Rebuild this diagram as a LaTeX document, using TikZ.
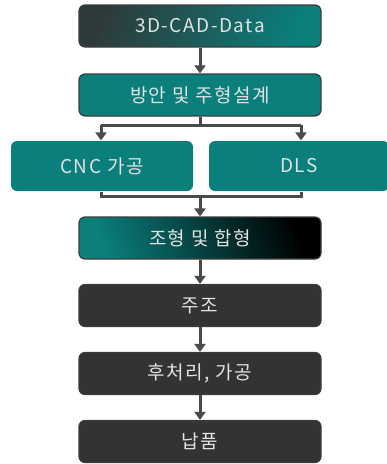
\documentclass[tikz,border=0pt]{standalone}
\usepackage{fontspec}
\setmainfont{Noto Sans CJK KR}[LetterSpace=8]
\usetikzlibrary{arrows.meta}
\definecolor{teal1}{HTML}{0A7F7C}
\definecolor{tealdark}{HTML}{2E3A3A}
\definecolor{boxdark}{HTML}{333333}
\definecolor{edgec}{HTML}{3C3C3C}
\definecolor{arrc}{HTML}{4A4A4A}
\definecolor{txt}{HTML}{E2E2E2}
\tikzset{
  box/.style={rounded corners=6pt, draw=edgec, line width=1.2pt, minimum width=242pt, minimum height=42pt, inner sep=0pt, text=txt, font=\fontsize{19}{22}\selectfont},
  tealbox/.style={box, fill=teal1},
  darkbox/.style={box, fill=boxdark},
  sidebox/.style={box, draw=none, fill=teal1, minimum height=50pt},
  conn/.style={draw=arrc, line width=3pt},
  arr/.style={conn, -{Triangle[length=8pt,width=11pt]}},
}
\begin{document}
\begin{tikzpicture}[x=1pt,y=-1pt]
\useasboundingbox (0,0) rectangle (387,464);
\node[box, left color=tealdark, right color=teal1, shading angle=70] (a) at (200,26) {3D-CAD-Data};
\node[tealbox] (b) at (200,95) {방안 및 주형설계};
\node[sidebox, minimum width=182pt] (c) at (102,166) {CNC 가공};
\node[sidebox, minimum width=180pt] (d) at (299,166) {DLS};
\node[box, left color=teal1, right color=black, shading angle=110] (e) at (200,238) {조형 및 합형};
\node[darkbox] (f) at (200,305.5) {주조};
\node[darkbox] (g) at (200,373.5) {후처리, 가공};
\node[darkbox] (h) at (200,441.5) {납품};
\coordinate (s1) at (200,125);
\coordinate (s2) at (101,125);
\coordinate (s3) at (301,125);
\coordinate (m1) at (101,196);
\coordinate (m2) at (301,196);
\coordinate (m0) at (200,196);
\draw[arr] (a.south) -- (b.north);
\draw[conn] (b.south) -- (s1);
\draw[conn] (s2) -- (s3);
\draw[arr] (s2) -- (s2 |- c.north);
\draw[arr] (s3) -- (s3 |- d.north);
\draw[conn] (m1 |- c.south) -- (m1) -- (m2) -- (m2 |- d.south);
\draw[arr] (m0) -- (e.north);
\draw[arr] (e.south) -- (f.north);
\draw[arr] (f.south) -- (g.north);
\draw[arr] (g.south) -- (h.north);
\end{tikzpicture}
\end{document}
